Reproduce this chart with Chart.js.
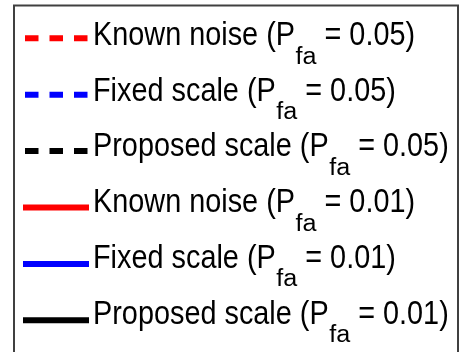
<!DOCTYPE html>
<html>
<head>
<meta charset="utf-8">
<script src="https://cdn.jsdelivr.net/npm/chart.js@4/dist/chart.umd.min.js"></script>
<style>
  html, body { margin: 0; padding: 0; background: #fff; }
  #chart { display: block; }
</style>
</head>
<body>
<canvas id="chart" width="465" height="352"></canvas>
<script>
// Legend of detection curves, only the legend box is in view.
const seriesNames = ["Known noise", "Fixed scale", "Proposed scale", "Known noise", "Fixed scale", "Proposed scale"];
const pfaValues = ["0.05", "0.05", "0.05", "0.01", "0.01", "0.01"];
const seriesColors = ["#ff0000", "#0000ff", "#000000", "#ff0000", "#0000ff", "#000000"];
const seriesDashed = [true, true, true, false, false, false];
const seriesData = [[], [], [], [], [], []];

const FONT = '"Liberation Sans", Arial, "DejaVu Sans", sans-serif';

// Fit a font to the reference glyph box: width of a sample string, cap height.
function fitFont(ctx, size, sample, width, ascent) {
  ctx.font = `${size}px ${FONT}`;
  const m = ctx.measureText(sample);
  const sx = width / m.width;
  const sy = ascent / m.actualBoundingBoxAscent;
  return { size, sx, sy };
}

function drawText(ctx, text, x, y, f) {
  ctx.save();
  ctx.translate(x, y);
  ctx.scale(f.sx, f.sy);
  ctx.font = `${f.size}px ${FONT}`;
  ctx.fillText(text, 0, 0);
  const w = ctx.measureText(text).width * f.sx;
  ctx.restore();
  return w;
}

const legendBox = {
  id: "legendBox",
  afterDraw(chart) {
    const ctx = chart.ctx;
    ctx.save();
    const main = fitFont(ctx, 30, "Known noise (P", 202, 25);
    const sub = fitFont(ctx, 24, "fa", 21, 16.6);

    ctx.strokeStyle = "#404040";
    ctx.lineWidth = 2;
    ctx.setLineDash([]);
    ctx.strokeRect(14, 5.5, 444, 420);

    chart.data.datasets.forEach((ds, i) => {
      const lineY = 38.3 + i * 56.4;
      const base = 45 + i * 55.7;
      ctx.strokeStyle = ds.borderColor;
      ctx.lineWidth = ds.borderWidth;
      ctx.lineCap = "butt";
      ctx.setLineDash(ds.borderDash || []);
      ctx.beginPath();
      if (ds.borderDash && ds.borderDash.length) {
        ctx.moveTo(25, lineY);
        ctx.lineTo(88, lineY);
      } else {
        ctx.moveTo(23, lineY);
        ctx.lineTo(89, lineY);
      }
      ctx.stroke();
      ctx.setLineDash([]);

      ctx.fillStyle = "#000";
      ctx.textBaseline = "alphabetic";
      let x = 93;
      x += drawText(ctx, ds.label.name + " (P", x, base, main);
      x += 0.5;
      x += drawText(ctx, "fa", x, base + 18.5, sub);
      drawText(ctx, " = " + ds.label.pfa + ")", x, base, main);
    });
    ctx.restore();
  },
};

new Chart(document.getElementById("chart"), {
  type: "line",
  data: {
    labels: [],
    datasets: seriesNames.map((name, i) => ({
      label: { name, pfa: pfaValues[i] },
      data: seriesData[i],
      borderColor: seriesColors[i],
      borderWidth: 6,
      borderDash: seriesDashed[i] ? [13.5, 11] : [],
      pointRadius: 0,
    })),
  },
  options: {
    responsive: false,
    animation: false,
    layout: { padding: 0 },
    plugins: { legend: { display: false }, tooltip: { enabled: false } },
    scales: { x: { display: false }, y: { display: false } },
  },
  plugins: [legendBox],
});
</script>
</body>
</html>
